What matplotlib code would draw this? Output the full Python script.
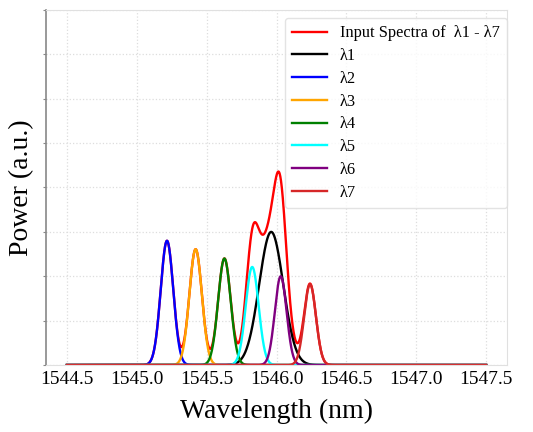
import numpy as np
import matplotlib
matplotlib.use("Agg")
import matplotlib.pyplot as plt

plt.rcParams['font.family'] = ['Liberation Serif', 'DejaVu Serif']

# peak parameters (centre nm, height in grid units, width nm)
labels = ['λ1', 'λ2', 'λ3', 'λ4', 'λ5', 'λ6', 'λ7']
centers = [1545.962, 1545.216, 1545.421, 1545.627, 1545.826, 1546.030, 1546.240]
heights = [3.00, 2.80, 2.61, 2.40, 2.21, 2.00, 1.82]
widths = [0.086, 0.045, 0.045, 0.045, 0.046, 0.042, 0.042]
colors = ['black', 'blue', 'orange', 'green', 'cyan', 'purple', '#d62728']

x_ticks = [1544.5, 1545.0, 1545.5, 1546.0, 1546.5, 1547.0, 1547.5]

wl = np.linspace(1544.5, 1547.5, 3001)
curves = [h * np.exp(-0.5 * ((wl - c) / w) ** 2) for c, h, w in zip(centers, heights, widths)]
total = np.sum(curves, axis=0)

fig = plt.figure(figsize=(5.33, 4.32), dpi=100)
ax = fig.add_axes([0.0863, 0.155, 0.8650, 0.822])

ax.plot(wl, total, color='red', lw=1.7, label='Input Spectra of  λ1 - λ7')
for y, col, lab in zip(curves, colors, labels):
    ax.plot(wl, y, color=col, lw=1.7, label=lab)

ax.set_ylim(0, 8)
ax.set_yticks(np.arange(0, 9, 1))
ax.set_yticklabels([])
ax.set_xticks(x_ticks)
ax.set_xticklabels(['%.1f' % t for t in x_ticks], fontsize=14)
ax.tick_params(axis='x', length=0, pad=4)
ax.tick_params(axis='y', length=2, color='#888888')

ax.grid(True, color='#dddddd', linestyle=':', linewidth=0.9)
for s in ['top', 'right', 'bottom']:
    ax.spines[s].set_color('#e0e0e0')
ax.spines['left'].set_color('#888888')
ax.spines['left'].set_linewidth(1.2)

ax.set_xlabel('Wavelength (nm)', fontsize=20, labelpad=8)
ax.set_ylabel('Power (a.u.)', fontsize=20, labelpad=3)

leg = ax.legend(loc='upper right', fontsize=11.8, frameon=True, fancybox=True,
                handlelength=2.1, handletextpad=0.8, labelspacing=0.41,
                borderpad=0.45, borderaxespad=0,
                bbox_to_anchor=(1.0, 0.977))
leg.get_frame().set_edgecolor('#dddddd')

fig.savefig('out.png', dpi=100)
